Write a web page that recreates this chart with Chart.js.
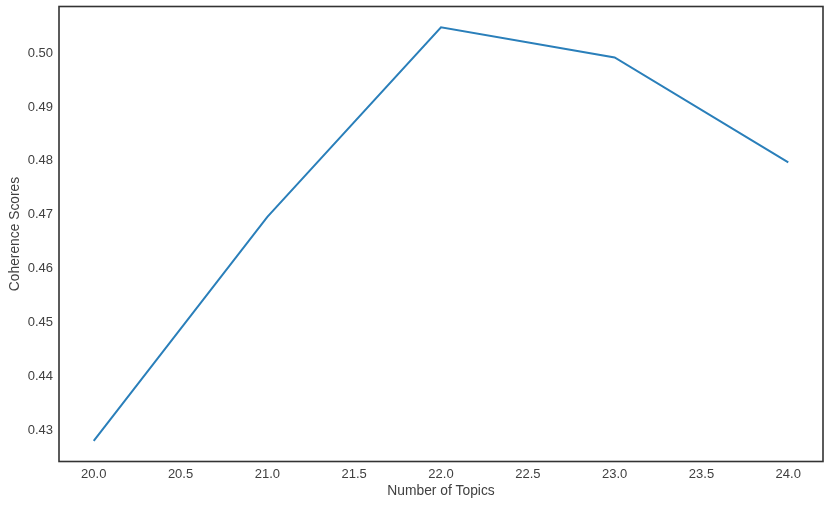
<!DOCTYPE html>
<html>
<head>
<meta charset="utf-8">
<script src="https://cdn.jsdelivr.net/npm/chart.js@4"></script>
<style>
html,body{margin:0;padding:0;background:#fff;}
#wrap{width:829px;height:508px;position:relative;}
</style>
</head>
<body>
<div id="wrap"><canvas id="c" width="829" height="508"></canvas></div>
<script>
const numTopics = [20, 21, 22, 23, 24];
const coherenceScores = [0.4280, 0.4696, 0.5048, 0.4992, 0.4797];
const xTickValues = [20.0, 20.5, 21.0, 21.5, 22.0, 22.5, 23.0, 23.5, 24.0];
const yTickValues = [0.43, 0.44, 0.45, 0.46, 0.47, 0.48, 0.49, 0.50];
const xTitle = 'Number of Topics';
const yTitle = 'Coherence Scores';

const textColor = '#404040';
const fontFamily = '"Liberation Sans", Arial, sans-serif';

const frame = {
  id: 'frame',
  afterDatasetsDraw(chart) {
    const {ctx, chartArea: a} = chart;
    ctx.save();
    ctx.strokeStyle = '#333333';
    ctx.lineWidth = 1.6;
    ctx.strokeRect(a.left, a.top, a.right - a.left, a.bottom - a.top);
    ctx.restore();
  }
};

new Chart(document.getElementById('c'), {
  type: 'line',
  data: {
    datasets: [{
      data: numTopics.map((x, i) => ({x: x, y: coherenceScores[i]})),
      borderColor: '#2a7fba',
      borderWidth: 2,
      pointRadius: 0,
      tension: 0,
      fill: false
    }]
  },
  options: {
    responsive: false,
    animation: false,
    devicePixelRatio: 1,
    layout: {padding: {top: 6.5, right: 6, left: 0, bottom: 0}},
    plugins: {legend: {display: false}, tooltip: {enabled: false}},
    scales: {
      x: {
        type: 'linear',
        min: 19.8,
        max: 24.2,
        grid: {display: false, drawTicks: false},
        border: {display: false},
        afterBuildTicks: s => { s.ticks = xTickValues.map(v => ({value: v})); },
        afterFit: s => { s.height = 46.5; s.paddingLeft = 0; s.paddingRight = 0; },
        ticks: {
          padding: 5,
          color: textColor,
          font: {family: fontFamily, size: 13},
          maxRotation: 0,
          callback: v => Number(v).toFixed(1)
        },
        title: {
          display: true,
          text: xTitle,
          color: textColor,
          font: {family: fontFamily, size: 13.8},
          padding: {top: 9, bottom: 9}
        }
      },
      y: {
        type: 'linear',
        min: 0.42417,
        max: 0.50866,
        grid: {display: false, drawTicks: false},
        border: {display: false},
        afterBuildTicks: s => { s.ticks = yTickValues.map(v => ({value: v})); },
        afterFit: s => { s.width = 59; s.paddingTop = 0; s.paddingBottom = 0; },
        ticks: {
          padding: 6,
          color: textColor,
          font: {family: fontFamily, size: 13},
          callback: v => Number(v).toFixed(2)
        },
        title: {
          display: true,
          text: yTitle,
          color: textColor,
          font: {family: fontFamily, size: 13.8},
          padding: {top: 6.5, bottom: 6.5}
        }
      }
    }
  },
  plugins: [frame]
});
</script>
</body>
</html>
